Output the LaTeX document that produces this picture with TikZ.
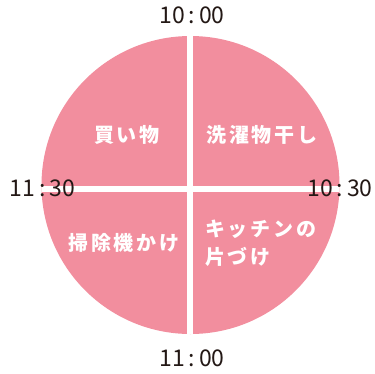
\documentclass[tikz,border=0pt]{standalone}
\usepackage{fontspec}
\newfontfamily\jp{Noto Sans CJK JP}
\newfontfamily\jpsp[LetterSpace=14]{Noto Sans CJK JP}
\definecolor{pie}{HTML}{F28E9E}
\definecolor{ink}{HTML}{231815}
\begin{document}
\begin{tikzpicture}[x=1pt,y=-1pt,
  timelbl/.style={font=\jp\fontsize{23}{23}\selectfont, text=ink, inner sep=0pt},
  task/.style={font=\jpsp\bfseries\fontsize{20}{28}\selectfont, text=white, inner sep=0pt},
  gap/.style={draw=white, line width=6pt}]
\useasboundingbox (0,0) rectangle (375,373);
\fill[pie] (190.5,185) circle[radius=149];
\begin{scope}
\clip (190.5,185) circle[radius=149];
\coordinate (vt) at (190.2,20);
\coordinate (vb) at (190.2,350);
\coordinate (hl) at (30,189.2);
\coordinate (hr) at (350,189.2);
\draw[gap] (vt) -- (vb);
\draw[gap] (hl) -- (hr);
\end{scope}
\node[timelbl] (t1000) at (192,15.5) {10\hspace{4pt}:\hspace{4pt}00};
\node[timelbl] (t1030) at (340,188.5) {10\hspace{4pt}:\hspace{4pt}30};
\node[timelbl] (t1100) at (192,358) {11\hspace{4pt}:\hspace{4pt}00};
\node[timelbl] (t1130) at (42.5,188.5) {11\hspace{4pt}:\hspace{4pt}30};
\node[task] (kaimono) at (127,135) {買い物};
\node[task] (sentaku) at (262,135) {洗濯物干し};
\node[task] (souji) at (124,243) {掃除機かけ};
\node[task, align=left, anchor=west] (kitchen) at (205,243) {キッチンの\\片づけ};
\end{tikzpicture}
\end{document}
